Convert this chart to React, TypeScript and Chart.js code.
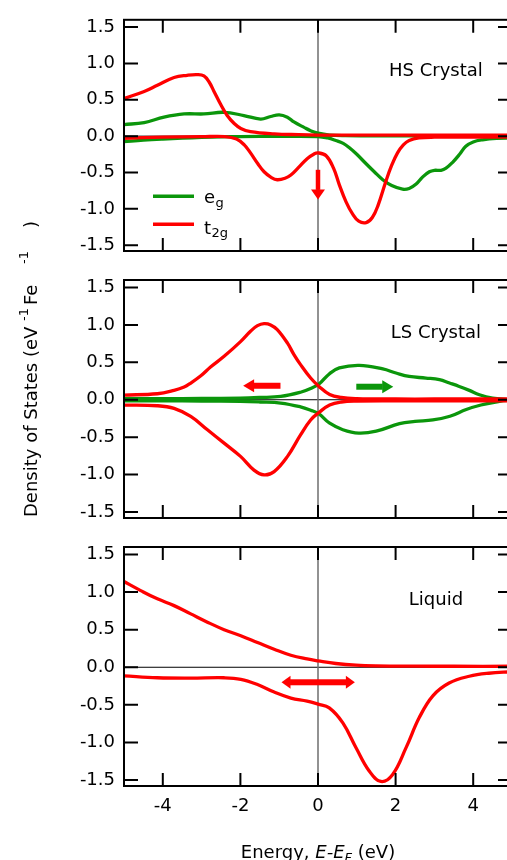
import React, { useEffect, useRef } from "react";
import { Chart, registerables } from "chart.js";

Chart.register(...registerables);

const FONT = '"DejaVu Sans", "Liberation Sans", sans-serif';
const RED = "#ff0000";
const GREEN = "#0b960b";
const CW = 520;
const CH = 860;

// ---------- axes ----------
const xTicks = [-4, -2, 0, 2, 4];
const yTicks = [-1.5, -1.0, -0.5, 0, 0.5, 1.0, 1.5];
const xRange = [-5, 5];
const yRange = [-1.58, 1.6];

// ---------- HS crystal ----------
const hsT2gUpE = [-5, -4.48, -4.14, -3.71, -3.37, -3.11, -2.94, -2.81, -2.68, -2.51, -2.34, -2.16, -1.99, -1.74, -1.13, -0.5, 0, 1, 2, 3, 4, 5];
const hsT2gUpV = [0.518, 0.615, 0.7, 0.806, 0.837, 0.846, 0.828, 0.748, 0.615, 0.438, 0.283, 0.173, 0.106, 0.062, 0.031, 0.02, 0.015, 0.013, 0.013, 0.013, 0.013, 0.013];
const hsT2gDnE = [-5, -4, -3, -2.4, -2.1, -1.9, -1.74, -1.55, -1.39, -1.2, -1.05, -0.85, -0.7, -0.5, -0.28, -0.1, 0, 0.21, 0.4, 0.55, 0.72, 0.89, 1.05, 1.24, 1.4, 1.55, 1.75, 1.9, 2.05, 2.2, 2.35, 2.6, 3, 4, 5];
const hsT2gDnV = [-0.03, -0.015, -0.008, -0.006, -0.04, -0.12, -0.23, -0.38, -0.49, -0.57, -0.6, -0.58, -0.535, -0.43, -0.31, -0.245, -0.23, -0.27, -0.44, -0.67, -0.9, -1.07, -1.17, -1.19, -1.12, -0.95, -0.62, -0.4, -0.23, -0.12, -0.06, -0.025, -0.015, -0.015, -0.015];
const hsEgUpE = [-5, -4.48, -3.97, -3.45, -2.94, -2.42, -1.91, -1.48, -1.22, -1.0, -0.79, -0.62, -0.36, -0.19, 0, 0.3, 0.7, 1.5, 3, 5];
const hsEgUpV = [0.159, 0.186, 0.261, 0.305, 0.305, 0.328, 0.283, 0.235, 0.27, 0.293, 0.261, 0.195, 0.12, 0.075, 0.04, 0.015, 0.007, 0.005, 0.004, 0.004];
const hsEgDnE = [-5, -4.5, -4, -3.5, -3, -2.5, -2, -1, 0, 0.25, 0.46, 0.65, 0.81, 1.0, 1.24, 1.45, 1.67, 1.9, 2.18, 2.35, 2.53, 2.7, 2.87, 3.0, 3.17, 3.3, 3.47, 3.65, 3.81, 4.0, 4.24, 4.6, 5];
const hsEgDnV = [-0.075, -0.055, -0.04, -0.028, -0.018, -0.01, -0.006, -0.003, -0.005, -0.025, -0.06, -0.1, -0.16, -0.25, -0.38, -0.49, -0.6, -0.68, -0.73, -0.72, -0.66, -0.56, -0.49, -0.47, -0.47, -0.44, -0.36, -0.25, -0.14, -0.08, -0.05, -0.03, -0.025];

// ---------- LS crystal ----------
const lsT2gUpE = [-5, -4.14, -3.71, -3.45, -3.28, -3.02, -2.77, -2.42, -1.99, -1.74, -1.56, -1.39, -1.22, -1.05, -0.79, -0.62, -0.45, -0.19, 0.026, 0.3, 0.6, 1.0, 2, 3, 4, 5];
const lsT2gUpV = [0.063, 0.08, 0.125, 0.17, 0.223, 0.32, 0.437, 0.58, 0.78, 0.915, 0.99, 1.017, 1.0, 0.937, 0.759, 0.603, 0.469, 0.29, 0.178, 0.07, 0.03, 0.015, 0.01, 0.01, 0.01, 0.01];
const lsT2gDnE = [-5, -4.14, -3.71, -3.28, -2.85, -2.42, -1.99, -1.65, -1.39, -1.13, -0.79, -0.45, -0.19, 0.026, 0.3, 0.6, 1.0, 2, 3, 4, 5];
const lsT2gDnV = [-0.071, -0.08, -0.116, -0.223, -0.402, -0.58, -0.76, -0.94, -1.004, -0.96, -0.76, -0.47, -0.27, -0.17, -0.07, -0.03, -0.018, -0.015, -0.015, -0.015, -0.015];
const lsEgUpE = [-5, -4, -3, -2, -1.5, -0.96, -0.45, -0.19, 0.026, 0.29, 0.55, 1.065, 1.67, 2.01, 2.35, 2.78, 3.13, 3.39, 3.64, 3.9, 4.16, 4.5, 4.87, 5];
const lsEgUpV = [0.015, 0.015, 0.018, 0.022, 0.03, 0.044, 0.1, 0.15, 0.21, 0.345, 0.425, 0.46, 0.411, 0.357, 0.312, 0.29, 0.268, 0.223, 0.178, 0.125, 0.067, 0.022, 0.003, 0.0];
const lsEgDnE = [-5, -4, -3, -2, -1.5, -0.96, -0.45, -0.19, 0.026, 0.29, 0.64, 1.05, 1.5, 2.1, 2.5, 2.96, 3.4, 3.82, 4.2, 4.68, 5];
const lsEgDnV = [-0.015, -0.015, -0.018, -0.022, -0.03, -0.044, -0.095, -0.14, -0.19, -0.31, -0.4, -0.446, -0.42, -0.32, -0.29, -0.27, -0.22, -0.13, -0.07, -0.02, -0.005];

// ---------- Liquid ----------
const lqUpE = [-5, -4.57, -4.14, -3.71, -3.28, -2.85, -2.42, -1.99, -1.56, -1.13, -0.7, -0.28, 0, 0.46, 0.98, 1.5, 2.5, 3.5, 5];
const lqUpV = [1.14, 1.02, 0.91, 0.82, 0.71, 0.6, 0.5, 0.42, 0.33, 0.24, 0.16, 0.11, 0.085, 0.05, 0.027, 0.018, 0.014, 0.013, 0.013];
const lqDnE = [-5, -4.14, -3.28, -2.42, -1.99, -1.56, -1.13, -0.7, -0.28, 0, 0.29, 0.64, 0.98, 1.32, 1.62, 1.92, 2.27, 2.61, 2.96, 3.38, 3.9, 4.4, 5];
const lqDnV = [-0.115, -0.14, -0.145, -0.14, -0.16, -0.23, -0.33, -0.41, -0.45, -0.49, -0.54, -0.74, -1.07, -1.38, -1.52, -1.43, -1.07, -0.67, -0.38, -0.21, -0.12, -0.08, -0.06];

// ---------- arrows (data coordinates: [x0, y0, x1, y1]) ----------
const hsArrow = [0, -0.47, 0, -0.87];
const lsRedArrow = [-0.98, 0.187, -1.93, 0.187];
const lsGreenArrow = [1.0, 0.174, 1.94, 0.174];
const lqArrow = [-0.94, -0.2, 0.95, -0.2];

// ---------- panel text ----------
const panelNames = ["HS Crystal", "LS Crystal", "Liquid"];
const legendItems = [
  { main: "e", sub: "g" },
  { main: "t", sub: "2g" },
];

// ---------- layout (pixels) ----------
const PANEL_BOX = [
  { top: 13, bottom: 251 },
  { top: 280, bottom: 518 },
  { top: 547, bottom: 786 },
];
const PLOT_LEFT = 124;
const PLOT_RIGHT = 512;
const LINE_W = 3.3;
const X_AXIS_H = 40;

const PANELS = [
  {
    box: PANEL_BOX[0],
    name: panelNames[0],
    labelAt: [3.04, 0.825],
    series: [
      { e: hsT2gUpE, v: hsT2gUpV, color: RED },
      { e: hsT2gDnE, v: hsT2gDnV, color: RED },
      { e: hsEgUpE, v: hsEgUpV, color: GREEN },
      { e: hsEgDnE, v: hsEgDnV, color: GREEN },
    ],
    arrows: [{ c: hsArrow, color: RED, shaft: 4.5, headW: 14, headL: 10, double: false }],
    legend: true,
    showX: false,
    yTitle: false,
    xTitle: false,
  },
  {
    box: PANEL_BOX[1],
    name: panelNames[1],
    labelAt: [3.04, 0.825],
    series: [
      { e: lsT2gUpE, v: lsT2gUpV, color: RED },
      { e: lsT2gDnE, v: lsT2gDnV, color: RED },
      { e: lsEgUpE, v: lsEgUpV, color: GREEN },
      { e: lsEgDnE, v: lsEgDnV, color: GREEN },
    ],
    arrows: [
      { c: lsRedArrow, color: RED, shaft: 6, headW: 13, headL: 11, double: false },
      { c: lsGreenArrow, color: GREEN, shaft: 6, headW: 13, headL: 11, double: false },
    ],
    legend: false,
    showX: false,
    yTitle: true,
    xTitle: false,
  },
  {
    box: PANEL_BOX[2],
    name: panelNames[2],
    labelAt: [3.04, 0.825],
    series: [
      { e: lqUpE, v: lqUpV, color: RED },
      { e: lqDnE, v: lqDnV, color: RED },
    ],
    arrows: [{ c: lqArrow, color: RED, shaft: 6, headW: 13, headL: 9, double: true }],
    legend: false,
    showX: true,
    yTitle: false,
    xTitle: true,
  },
];

function drawArrow(ctx, x0, y0, x1, y1, color, shaft, headW, headL, dbl) {
  const dx = x1 - x0;
  const dy = y1 - y0;
  const len = Math.hypot(dx, dy);
  ctx.save();
  ctx.translate(x0, y0);
  ctx.rotate(Math.atan2(dy, dx));
  ctx.fillStyle = color;
  const s = dbl ? headL : 0;
  ctx.fillRect(s - 0.5, -shaft / 2, len - headL - s + 1, shaft);
  ctx.beginPath();
  ctx.moveTo(len, 0);
  ctx.lineTo(len - headL, -headW / 2);
  ctx.lineTo(len - headL, headW / 2);
  ctx.closePath();
  ctx.fill();
  if (dbl) {
    ctx.beginPath();
    ctx.moveTo(0, 0);
    ctx.lineTo(headL, -headW / 2);
    ctx.lineTo(headL, headW / 2);
    ctx.closePath();
    ctx.fill();
  }
  ctx.restore();
}

function font(size, italic) {
  return `${italic ? "italic " : ""}${size}px ${FONT}`;
}

function makePlugin(p) {
  return {
    id: "panelDeco",
    beforeDatasetsDraw(chart) {
      const { ctx, chartArea: a, scales } = chart;
      const x = scales.x;
      const y = scales.y;
      ctx.save();
      const y0 = y.getPixelForValue(0);
      ctx.strokeStyle = "#000";
      ctx.lineWidth = 1;
      ctx.beginPath();
      ctx.moveTo(a.left, y0);
      ctx.lineTo(a.right, y0);
      ctx.stroke();
      const x0 = x.getPixelForValue(0);
      ctx.strokeStyle = "#6e6e6e";
      ctx.lineWidth = 1.5;
      ctx.beginPath();
      ctx.moveTo(x0, a.top);
      ctx.lineTo(x0, a.bottom);
      ctx.stroke();
      ctx.restore();
    },
    afterDatasetsDraw(chart) {
      const { ctx, chartArea: a, scales } = chart;
      const x = scales.x;
      const y = scales.y;
      ctx.save();
      ctx.strokeStyle = "#000";
      ctx.lineWidth = 2;
      ctx.strokeRect(a.left, a.top, a.right - a.left, a.bottom - a.top);
      ctx.beginPath();
      xTicks.forEach((v) => {
        const px = x.getPixelForValue(v);
        ctx.moveTo(px, a.top);
        ctx.lineTo(px, a.top + 13);
        ctx.moveTo(px, a.bottom);
        ctx.lineTo(px, a.bottom - 13);
      });
      yTicks.forEach((v) => {
        const py = y.getPixelForValue(v);
        ctx.moveTo(a.left, py);
        ctx.lineTo(a.left + 14, py);
        ctx.moveTo(a.right, py);
        ctx.lineTo(a.right - 14, py);
      });
      ctx.stroke();

      p.arrows.forEach((ar) => {
        const [ax0, ay0, ax1, ay1] = ar.c;
        drawArrow(
          ctx,
          x.getPixelForValue(ax0),
          y.getPixelForValue(ay0),
          x.getPixelForValue(ax1),
          y.getPixelForValue(ay1),
          ar.color,
          ar.shaft,
          ar.headW,
          ar.headL,
          ar.double
        );
      });

      ctx.fillStyle = "#000";
      ctx.font = font(18, false);
      ctx.textAlign = "center";
      ctx.textBaseline = "alphabetic";
      ctx.fillText(p.name, x.getPixelForValue(p.labelAt[0]), y.getPixelForValue(p.labelAt[1]));

      if (p.legend) {
        const rows = [
          { lineY: a.top + 176.5, base: a.top + 183, color: GREEN, item: legendItems[0], subDy: 4 },
          { lineY: a.top + 204.5, base: a.top + 214.5, color: RED, item: legendItems[1], subDy: 3 },
        ];
        rows.forEach((r) => {
          ctx.strokeStyle = r.color;
          ctx.lineWidth = 3.5;
          ctx.beginPath();
          ctx.moveTo(a.left + 29, r.lineY);
          ctx.lineTo(a.left + 70, r.lineY);
          ctx.stroke();
          ctx.fillStyle = "#000";
          ctx.textAlign = "left";
          ctx.font = font(18, false);
          const tx = a.left + 80;
          ctx.fillText(r.item.main, tx, r.base);
          const w = ctx.measureText(r.item.main).width;
          ctx.font = font(13, false);
          ctx.fillText(r.item.sub, tx + w + 0.5, r.base + r.subDy);
        });
      }
      ctx.restore();
    },
    afterDraw(chart) {
      const { ctx, chartArea: a } = chart;
      ctx.save();
      ctx.fillStyle = "#000";
      ctx.textBaseline = "alphabetic";
      ctx.textAlign = "left";
      if (p.xTitle) {
        const pieces = [
          { t: "Energy, ", s: 18, it: false, dy: 0 },
          { t: "E-E", s: 18, it: true, dy: 0 },
          { t: "F", s: 13, it: true, dy: 4 },
          { t: " (eV)", s: 18, it: false, dy: 0 },
        ];
        let total = 0;
        pieces.forEach((pc) => {
          ctx.font = font(pc.s, pc.it);
          total += ctx.measureText(pc.t).width;
        });
        let cx = (a.left + a.right) / 2 - total / 2;
        const base = 858;
        pieces.forEach((pc) => {
          ctx.font = font(pc.s, pc.it);
          ctx.fillText(pc.t, cx, base + pc.dy);
          cx += ctx.measureText(pc.t).width;
        });
      }
      if (p.yTitle) {
        ctx.translate(36.7, 517);
        ctx.rotate(-Math.PI / 2);
        const pieces = [
          { t: "Density of States (eV", s: 18, at: 0, dy: 0 },
          { t: "-1", s: 13, at: 196, dy: -9 },
          { t: "Fe", s: 18, at: 212, dy: 0 },
          { t: "-1", s: 13, at: 253, dy: -9 },
          { t: ")", s: 18, at: 289, dy: 0 },
        ];
        pieces.forEach((pc) => {
          ctx.font = font(pc.s, false);
          ctx.fillText(pc.t, pc.at, pc.dy);
        });
      }
      ctx.restore();
    },
  };
}

function makeChart(canvas, p) {
  const datasets = p.series.map((s) => ({
    data: s.e.map((xv, i) => ({ x: xv, y: s.v[i] })),
    borderColor: s.color,
    backgroundColor: s.color,
    borderWidth: LINE_W,
    borderCapStyle: "round",
    borderJoinStyle: "round",
    pointRadius: 0,
    fill: false,
    tension: 0.4,
  }));
  const xH = p.showX ? X_AXIS_H : 0;
  return new Chart(canvas, {
    type: "line",
    data: { datasets },
    options: {
      responsive: false,
      animation: false,
      devicePixelRatio: 1,
      events: [],
      layout: {
        padding: { left: 0, right: CW - PLOT_RIGHT, top: p.box.top, bottom: CH - p.box.bottom - xH },
      },
      plugins: {
        legend: { display: false },
        tooltip: { enabled: false },
        title: { display: false },
      },
      scales: {
        x: {
          type: "linear",
          min: xRange[0],
          max: xRange[1],
          afterBuildTicks: (s) => {
            s.ticks = xTicks.map((v) => ({ value: v }));
          },
          afterFit: (s) => {
            s.height = xH;
          },
          grid: { display: false, drawTicks: false },
          border: { display: false },
          ticks: {
            display: p.showX,
            padding: 10,
            maxRotation: 0,
            autoSkip: false,
            color: "#000",
            font: { family: FONT, size: 18 },
            callback: (v) => String(v),
          },
        },
        y: {
          type: "linear",
          min: yRange[0],
          max: yRange[1],
          afterBuildTicks: (s) => {
            s.ticks = yTicks.map((v) => ({ value: v }));
          },
          afterFit: (s) => {
            s.width = PLOT_LEFT;
          },
          grid: { display: false, drawTicks: false },
          border: { display: false },
          ticks: {
            padding: 9,
            autoSkip: false,
            color: "#000",
            font: { family: FONT, size: 18 },
            callback: (v) => Number(v).toFixed(1),
          },
        },
      },
    },
    plugins: [makePlugin(p)],
  });
}

export default function App() {
  const r1 = useRef(null);
  const r2 = useRef(null);
  const r3 = useRef(null);
  useEffect(() => {
    Chart.defaults.font.family = FONT;
    const refs = [r1, r2, r3];
    const charts = refs.map((r, i) => makeChart(r.current, PANELS[i]));
    return () => charts.forEach((c) => c.destroy());
  }, []);
  return (
    <div
      style={{
        position: "absolute",
        left: 0,
        top: 0,
        width: 507,
        height: 860,
        overflow: "hidden",
        background: "#fff",
      }}
    >
      {[r1, r2, r3].map((r, i) => (
        <canvas
          key={i}
          ref={r}
          width={CW}
          height={CH}
          style={{ position: "absolute", left: 0, top: 0, width: CW, height: CH }}
        />
      ))}
    </div>
  );
}
